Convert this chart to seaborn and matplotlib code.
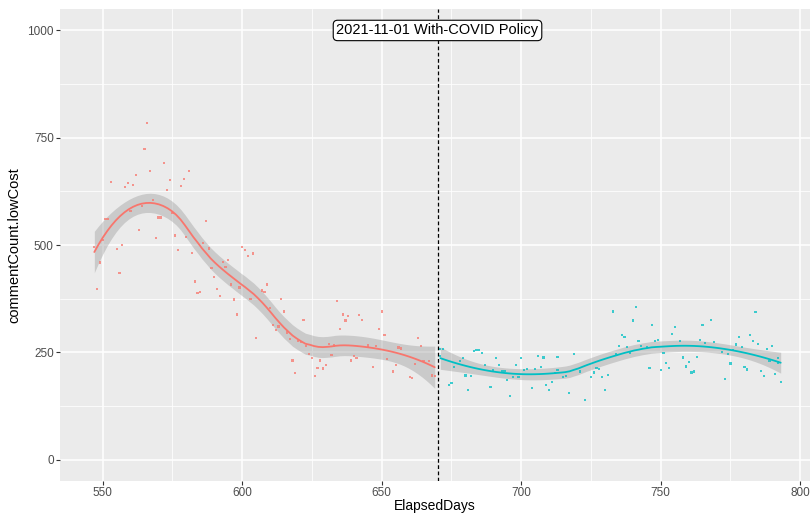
import numpy as np
import pandas as pd
import matplotlib
matplotlib.use("Agg")
import matplotlib.pyplot as plt
import seaborn as sns

# ---- data ----
pre_days = [566, 565, 572, 567, 581, 562, 553, 559, 561, 558, 574, 579, 578, 573, 568, 564,
            560, 575, 570, 571, 551, 552, 563, 550, 576, 580, 569, 557, 555, 577, 582, 586,
            547, 549, 556, 548, 583, 584, 585, 587,
            588, 600, 601, 602, 604, 595, 593, 594, 589, 590, 591, 592, 596, 599, 597, 598,
            609, 607, 608, 603, 614, 610, 615, 622, 611, 612, 613, 616, 605, 617, 620, 621,
            623, 624, 625, 618, 628, 619, 627, 629, 626,
            634, 636, 638, 637, 642, 643, 635, 650, 649, 651, 663, 664, 631, 633, 645, 648,
            656, 657, 632, 640, 641, 639, 652, 630, 655, 647, 654, 662, 665, 667, 660, 661,
            668, 669]
pre_counts = [785, 723, 691, 672, 672, 663, 647, 644, 640, 635, 652, 653, 637, 628, 605, 591,
              580, 574, 564, 564, 561, 561, 535, 511, 522, 518, 517, 500, 490, 489, 482, 505,
              495, 459, 435, 397, 415, 389, 391, 556,
              492, 496, 488, 474, 480, 465, 460, 449, 447, 426, 398, 382, 408, 401, 373, 338,
              408, 394, 390, 375, 375, 353, 345, 326, 313, 302, 310, 296, 283, 281, 276, 274,
              264, 246, 236, 231, 231, 202, 214, 212, 195,
              369, 338, 334, 324, 336, 326, 305, 345, 305, 290, 284, 264, 269, 266, 266, 264,
              261, 259, 243, 241, 237, 231, 235, 220, 220, 215, 205, 223, 229, 229, 193, 190,
              196, 195]

post_days = [671, 672, 671, 674, 675, 678, 679, 676, 680, 681, 682, 683, 684, 685, 686, 687,
             689, 690, 691, 692, 693, 694, 695, 696, 697, 698, 699, 700, 701, 702, 704, 705,
             706, 707, 708, 709, 710, 711, 712, 713, 713, 719, 715, 716, 717, 723, 721, 725,
             726, 727, 728, 729, 730, 731, 733, 734, 735, 736, 737, 738, 739, 740, 741, 742,
             743, 745, 746, 747, 748, 749, 750, 751, 752, 753, 754, 755, 757, 758, 760, 759,
             761, 762, 763, 764, 765, 766, 768, 769, 772, 773, 774, 775, 776, 777, 778, 779,
             780, 781, 782, 783, 784, 785, 786, 787, 788, 789, 790, 791, 792, 792, 793]
post_counts = [258, 258, 242, 174, 178, 229, 236, 215, 196, 162, 195, 253, 255, 255, 249, 220,
               170, 209, 236, 220, 206, 206, 186, 149, 193, 220, 193, 236, 208, 211, 167, 211,
               242, 215, 238, 174, 162, 181, 201, 239, 208, 246, 193, 195, 155, 139, 205, 193,
               203, 213, 211, 193, 163, 197, 345, 245, 265, 290, 285, 262, 249, 324, 355, 276,
               264, 262, 213, 313, 276, 279, 208, 249, 225, 213, 293, 309, 277, 238, 227, 217,
               203, 205, 239, 279, 313, 272, 326, 274, 251, 188, 246, 224, 256, 268, 286, 263,
               215, 210, 291, 276, 343, 269, 207, 195, 257, 230, 264, 199, 236, 226, 181]

policy_day = 670
policy_label = "2021-11-01 With-COVID Policy"
x_ticks = [550, 600, 650, 700, 750, 800]
y_ticks = [0, 250, 500, 750, 1000]
colors = {"pre": "#F8766D", "post": "#00BFC4"}
spans = {"pre": 0.58, "post": 0.75}


def loess_fit(x, y, grid, span=0.75):
    """Local quadratic regression with tricube weights (as R's loess), with SE."""
    x = np.asarray(x, float); y = np.asarray(y, float)
    n = len(x); q = int(np.floor(span * n))

    def rowvec(x0):
        d = np.abs(x - x0)
        h = np.sort(d)[q - 1]
        u = np.clip(d / h, 0, 1)
        w = (1 - u ** 3) ** 3
        X = np.column_stack([np.ones(n), x - x0, (x - x0) ** 2])
        XtW = X.T * w
        return np.linalg.solve(XtW @ X, XtW)[0]

    L = np.array([rowvec(v) for v in x])
    resid = y - L @ y
    M = np.eye(n) - L
    d1 = np.trace(M.T @ M)
    sigma2 = np.sum(resid ** 2) / d1
    Lg = np.array([rowvec(v) for v in grid])
    fit = Lg @ y
    se = np.sqrt(sigma2 * np.sum(Lg ** 2, axis=1))
    return fit, se


pre = pd.DataFrame({"ElapsedDays": pre_days, "commentCount.lowCost": pre_counts, "period": "pre"})
post = pd.DataFrame({"ElapsedDays": post_days, "commentCount.lowCost": post_counts, "period": "post"})
df = pd.concat([pre, post], ignore_index=True)

sns.set_theme(style="darkgrid", rc={
    "axes.facecolor": "#EBEBEB", "grid.color": "white", "figure.facecolor": "white",
})
plt.rcParams["font.family"] = ["Liberation Sans", "DejaVu Sans"]

fig = plt.figure(figsize=(8.10, 5.13), dpi=100)
ax = fig.add_axes([60 / 810, 32 / 513, 750 / 810, 472 / 513])

for key, sub in (("pre", pre), ("post", post)):
    xs = sub["ElapsedDays"].to_numpy(float)
    ys = sub["commentCount.lowCost"].to_numpy(float)
    grid = np.linspace(xs.min(), xs.max(), 80)
    fit, se = loess_fit(xs, ys, grid, spans[key])
    ax.fill_between(grid, fit - 1.98 * se, fit + 1.98 * se, color="#999999", alpha=0.4,
                    linewidth=0, zorder=2)
    sns.lineplot(x=grid, y=fit, color=colors[key], linewidth=1.3, ax=ax, zorder=3)

sns.scatterplot(data=df, x="ElapsedDays", y="commentCount.lowCost", hue="period",
                palette=colors, s=2.5, linewidth=0, marker="s", alpha=0.75, legend=False,
                ax=ax, zorder=4)

ax.axvline(policy_day, color="black", linestyle=(0, (3, 2)), linewidth=0.9, zorder=5)
ax.text(policy_day, 1000, policy_label, ha="center", va="center", fontsize=10.5, color="black",
        zorder=6, bbox=dict(boxstyle="round,pad=0.22,rounding_size=0.3", fc="white", ec="black", lw=0.8))

ax.set_xlim(534.7, 803.5)
ax.set_ylim(-50, 1050)
ax.set_xticks(x_ticks)
ax.set_yticks(y_ticks)
ax.set_xticks([575, 625, 675, 725, 775], minor=True)
ax.set_yticks([125, 375, 625, 875], minor=True)
ax.grid(which="major", color="white", linewidth=1.1)
ax.grid(which="minor", color="white", linewidth=0.55)
ax.tick_params(which="major", length=3, width=0.8, color="#333333", labelsize=8.5,
               labelcolor="#4D4D4D", pad=1.5, bottom=True, left=True)
ax.tick_params(which="minor", length=0)
for s in ax.spines.values():
    s.set_visible(False)
ax.set_xlabel("ElapsedDays", fontsize=10, color="black", labelpad=0)
ax.set_ylabel("commentCount.lowCost", fontsize=10.5, color="black", labelpad=4)

fig.savefig("out.png", dpi=100)
